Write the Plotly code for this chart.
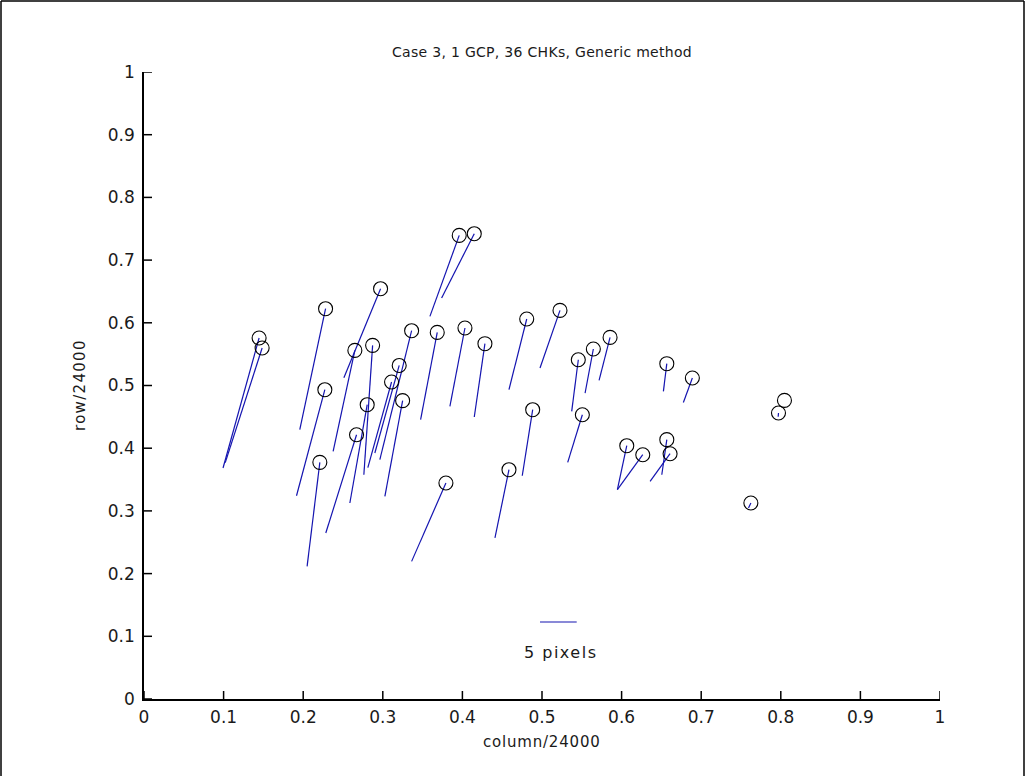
import plotly.graph_objects as go

# Check point positions (normalised image coordinates) and the tips of their
# scaled residual vectors.
chk_x = [0.1446, 0.1484, 0.2281, 0.2272, 0.2209, 0.2649, 0.2972, 0.2872, 0.2804,
         0.2670, 0.3206, 0.3110, 0.3249, 0.3362, 0.3684, 0.4032, 0.4283, 0.3960,
         0.4149, 0.4808, 0.4883, 0.3793, 0.4585, 0.5226, 0.5456, 0.5645, 0.5855,
         0.6568, 0.6889, 0.5507, 0.6065, 0.6266, 0.6568, 0.6609, 0.8046, 0.7971,
         0.7624]
chk_y = [0.5758, 0.5598, 0.6225, 0.4933, 0.3774, 0.5560, 0.6544, 0.5640, 0.4694,
         0.4215, 0.5320, 0.5056, 0.4758, 0.5874, 0.5847, 0.5917, 0.5667, 0.7394,
         0.7421, 0.6061, 0.4614, 0.3445, 0.3657, 0.6198, 0.5411, 0.5582, 0.5767,
         0.5348, 0.5120, 0.4534, 0.4040, 0.3896, 0.4136, 0.3912, 0.4762, 0.4561,
         0.3126]
tip_x = [0.0993, 0.1021, 0.1957, 0.1916, 0.2049, 0.2376, 0.2511, 0.2762, 0.2586,
         0.2284, 0.2900, 0.2812, 0.3026, 0.2963, 0.3475, 0.3843, 0.4149, 0.3592,
         0.3739, 0.4585, 0.4752, 0.3362, 0.4409, 0.4975, 0.5373, 0.5541, 0.5717,
         0.6525, 0.6776, 0.5323, 0.5947, 0.5947, 0.6505, 0.6358, 0.8046, 0.7967,
         0.7594]
tip_y = [0.3684, 0.3769, 0.4295, 0.3242, 0.2115, 0.3949, 0.5124, 0.3577, 0.3126,
         0.2648, 0.3923, 0.3689, 0.3231, 0.3817, 0.4455, 0.4667, 0.4498, 0.6102,
         0.6396, 0.4933, 0.3561, 0.2195, 0.2568, 0.5279, 0.4587, 0.4880, 0.5081,
         0.4906, 0.4730, 0.3774, 0.3338, 0.3338, 0.3577, 0.3471, 0.4762, 0.4502,
         0.3046]

# Reference bar for the vector scale
scale_x = [0.4975, 0.5436]
scale_y = [0.1228, 0.1228]
scale_label = "5 pixels"

tick_vals = [0, 0.1, 0.2, 0.3, 0.4, 0.5, 0.6, 0.7, 0.8, 0.9, 1]
tick_text = ["0", "0.1", "0.2", "0.3", "0.4", "0.5", "0.6", "0.7", "0.8", "0.9", "1"]

title_text = "Case 3, 1 GCP, 36 CHKs, Generic method"
x_title = "column/24000"
y_title = "row/24000"

FONT = "DejaVu Sans, Verdana, sans-serif"
TXT = "#1a1a1a"
VEC_COLOR = "#1414b0"
TICK_LEN = 8  # px, drawn inward from each axis line


def spaced(text, px):
    """Wrap text in a span with extra letter spacing."""
    return f'<span style="letter-spacing:{px}px">{text}</span>'


# Build the vector segments as one broken polyline
seg_x, seg_y = [], []
for x0, y0, x1, y1 in zip(chk_x, chk_y, tip_x, tip_y):
    seg_x += [x0, x1, None]
    seg_y += [y0, y1, None]

fig = go.Figure()
fig.add_trace(go.Scatter(x=seg_x, y=seg_y, mode="lines",
                         line=dict(color=VEC_COLOR, width=1.2),
                         hoverinfo="skip", showlegend=False))
fig.add_trace(go.Scatter(x=chk_x, y=chk_y, mode="markers",
                         marker=dict(symbol="circle-open", size=14,
                                     color="black", line=dict(width=1.1)),
                         showlegend=False))
fig.add_trace(go.Scatter(x=scale_x, y=scale_y, mode="lines",
                         line=dict(color=VEC_COLOR, width=1.2),
                         hoverinfo="skip", showlegend=False))

W, H = 1027, 776
L, R, T, B = 144, 87, 72, 77
pw, ph = W - L - R, H - T - B

axis_common = dict(range=[0, 1], tickmode="array", tickvals=tick_vals,
                   ticktext=tick_text, ticks="", showline=True,
                   linecolor="black", linewidth=1.5, showgrid=False,
                   zeroline=False, mirror=False, layer="above traces",
                   tickfont=dict(family=FONT, size=17, color=TXT))

# Inward tick marks along the bottom and left axis lines
tick_shapes = []
for v in tick_vals:
    tick_shapes.append(dict(type="line", xref="x", yref="paper",
                            x0=v, x1=v, y0=0, y1=TICK_LEN / ph,
                            line=dict(color="black", width=1.5)))
    tick_shapes.append(dict(type="line", xref="paper", yref="y",
                            x0=0, x1=TICK_LEN / pw, y0=v, y1=v,
                            line=dict(color="black", width=1.5)))

# Outer frame of the figure window
frame_shapes = [
    dict(type="line", xref="paper", yref="paper",
         x0=(1 - L) / pw, x1=(1 - L) / pw,
         y0=-(H + 5 - (H - B)) / ph, y1=1 + (T - 1) / ph,
         line=dict(color="black", width=1.5)),
    dict(type="line", xref="paper", yref="paper",
         x0=(1 - L) / pw, x1=(1024 - L) / pw,
         y0=1 + (T - 1) / ph, y1=1 + (T - 1) / ph,
         line=dict(color="black", width=1.5)),
    dict(type="line", xref="paper", yref="paper",
         x0=(1024 - L) / pw, x1=(1024 - L) / pw,
         y0=-(H + 5 - (H - B)) / ph, y1=1 + (T - 1) / ph,
         line=dict(color="black", width=1.5)),
]

fig.update_layout(
    width=W, height=H,
    margin=dict(l=L, r=R, t=T, b=B, pad=0),
    paper_bgcolor="white", plot_bgcolor="white",
    xaxis=dict(**axis_common, ticklabelstandoff=2),
    yaxis=dict(**axis_common, ticklabelstandoff=4),
    showlegend=False,
    annotations=[
        dict(text=spaced(title_text, 0.3), xref="paper", yref="paper",
             x=0.5, y=1 + (T - 52) / ph, showarrow=False,
             xanchor="center", yanchor="middle",
             font=dict(family=FONT, size=14, color=TXT)),
        dict(text=spaced(x_title, 0.8), xref="paper", yref="paper",
             x=0.5, y=-(742 - (H - B)) / ph, showarrow=False,
             xanchor="center", yanchor="middle",
             font=dict(family=FONT, size=15, color=TXT)),
        dict(text=spaced(y_title, 1.3), xref="paper", yref="paper",
             x=(80 - L) / pw, y=1 - (385 - T) / ph, showarrow=False,
             textangle=-90, xanchor="center", yanchor="middle",
             font=dict(family=FONT, size=15, color=TXT)),
        dict(text=spaced(scale_label, 1.5), x=sum(scale_x) / 2 + 0.0025,
             y=0.074, xref="x", yref="y", showarrow=False,
             xanchor="center", yanchor="middle",
             font=dict(family=FONT, size=16, color=TXT)),
    ],
    shapes=tick_shapes + frame_shapes,
)

fig.write_html("out.html")
